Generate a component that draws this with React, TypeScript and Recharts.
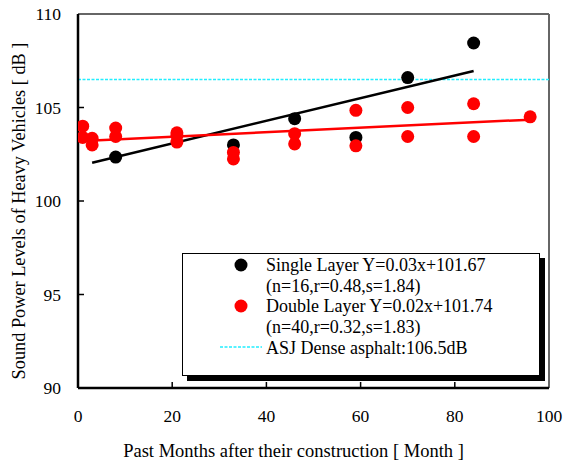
import React from "react";
import {
  ComposedChart,
  Scatter,
  Line,
  XAxis,
  YAxis,
  ReferenceLine,
} from "recharts";

const singleMonths = [8, 33, 46, 59, 70, 84];
const singleLevels = [102.35, 103.0, 104.4, 103.4, 106.6, 108.45];

const doubleMonths = [1, 1, 3, 3, 8, 8, 21, 21, 21, 33, 33, 46, 46, 59, 59, 70, 70, 84, 84, 96];
const doubleLevels = [
  104.0, 103.4, 103.35, 103.0, 103.9, 103.45, 103.65, 103.5, 103.15, 102.6, 102.25,
  103.6, 103.05, 104.85, 102.95, 105.0, 103.45, 105.2, 103.45, 104.5,
];

const singleFitX = [3, 84];
const singleFitY = [102.05, 106.95];
const doubleFitX = [0, 96];
const doubleFitY = [103.2, 104.35];

const asjLevel = 106.5;

const xTicks = [0, 20, 40, 60, 80, 100];
const yTicks = [90, 95, 100, 105, 110];

const legendLines = [
  "Single Layer Y=0.03x+101.67",
  "(n=16,r=0.48,s=1.84)",
  "Double Layer Y=0.02x+101.74",
  "(n=40,r=0.32,s=1.83)",
  "ASJ Dense asphalt:106.5dB",
];

const xLabel = "Past Months after their construction [ Month ]";
const yLabel = "Sound Power Levels of Heavy Vehicles [ dB ]";

const singleData = singleMonths.map((m, i) => ({ x: m, y: singleLevels[i] }));
const doubleData = doubleMonths.map((m, i) => ({ x: m, y: doubleLevels[i] }));
const singleFit = singleFitX.map((m, i) => ({ x: m, y: singleFitY[i] }));
const doubleFit = doubleFitX.map((m, i) => ({ x: m, y: doubleFitY[i] }));

const FONT = '"Liberation Serif", "Times New Roman", serif';
const CYAN = "#22eeff";

const XTick = (props: any) => {
  const { x, y, payload } = props;
  const v = payload.value;
  const inner = v !== 0 && v !== 100;
  return (
    <g>
      {inner && <line x1={x} y1={y} x2={x} y2={y - 6} stroke="#000" strokeWidth={1.5} />}
      <text x={x} y={y + 34} textAnchor="middle" style={{ fontFamily: FONT, fontSize: 17.5 }} fill="#000">
        {v}
      </text>
    </g>
  );
};

const YTick = (props: any) => {
  const { x, y, payload } = props;
  const v = payload.value;
  const inner = v !== 90 && v !== 110;
  return (
    <g>
      {inner && <line x1={x} y1={y} x2={x + 6} y2={y} stroke="#000" strokeWidth={1.5} />}
      <text x={x - 17} y={y + 6} textAnchor="end" style={{ fontFamily: FONT, fontSize: 17.5 }} fill="#000">
        {v}
      </text>
    </g>
  );
};

const XLabel = (props: any) => {
  const { viewBox } = props;
  const cx = viewBox.x + viewBox.width / 2 - 20;
  return (
    <text x={cx} y={viewBox.y + viewBox.height - 4} textAnchor="middle" style={{ fontFamily: FONT, fontSize: 18.5 }} fill="#000">
      {xLabel}
    </text>
  );
};

const YLabel = (props: any) => {
  const { viewBox } = props;
  const cx = 19;
  const cy = viewBox.y + viewBox.height / 2 + 10;
  return (
    <text
      x={cx}
      y={cy}
      transform={`rotate(-90 ${cx} ${cy})`}
      textAnchor="middle"
      dominantBaseline="central"
      style={{ fontFamily: FONT, fontSize: 18.3 }}
      fill="#000"
    >
      {yLabel}
    </text>
  );
};

const dot = (color: string) => (props: any) => (
  <circle cx={props.cx} cy={props.cy} r={6.5} fill={color} />
);

const LegendBox = () => (
  <div
    style={{
      position: "absolute",
      left: 182,
      top: 253,
      width: 356,
      height: 121,
      border: "1px solid #000",
      background: "#fff",
      boxShadow: "5px 5px 0 #000",
    }}
  >
    <svg width={356} height={121} style={{ position: "absolute", left: 0, top: 0 }}>
      <circle cx={58} cy={11} r={6.5} fill="#000" />
      <circle cx={58} cy={52} r={6.5} fill="#ff0000" />
      <line x1={37} y1={93} x2={79} y2={93} stroke={CYAN} strokeWidth={1.5} strokeDasharray="3 1.5" />
      {legendLines.map((t, i) => (
        <text key={i} x={83} y={17 + i * 20.7} style={{ fontFamily: FONT, fontSize: 18 }} fill="#000">
          {t}
        </text>
      ))}
    </svg>
  </div>
);

export default function App() {
  return (
    <div style={{ position: "absolute", left: 0, top: 0, width: 563, height: 461, background: "#fff" }}>
      <ComposedChart
        width={563}
        height={461}
        margin={{ top: 14, right: 14, bottom: 0, left: 0 }}
      >
        <XAxis
          type="number"
          dataKey="x"
          domain={[0, 100]}
          ticks={xTicks}
          height={73}
          axisLine={{ stroke: "#000", strokeWidth: 2.5 }}
          tickLine={false}
          tickSize={0}
          tickMargin={0}
          tick={<XTick />}
          allowDataOverflow
          label={{ content: <XLabel /> }}
        />
        <YAxis
          type="number"
          dataKey="y"
          domain={[90, 110]}
          ticks={yTicks}
          width={78}
          axisLine={{ stroke: "#000", strokeWidth: 2.5 }}
          tickLine={false}
          tickSize={0}
          tickMargin={0}
          tick={<YTick />}
          allowDataOverflow
          label={{ content: <YLabel /> }}
        />
        <ReferenceLine y={110} stroke="#666" strokeWidth={2} />
        <ReferenceLine x={100} stroke="#666" strokeWidth={2} />
        <ReferenceLine y={asjLevel} stroke={CYAN} strokeWidth={1.5} strokeDasharray="3 1.5" />
        <Scatter data={singleData} fill="#000" shape={dot("#000")} isAnimationActive={false} legendType="none" />
        <Scatter data={doubleData} fill="#ff0000" shape={dot("#ff0000")} isAnimationActive={false} legendType="none" />
        <Line
          data={singleFit}
          dataKey="y"
          stroke="#000"
          strokeWidth={2.5}
          dot={false}
          activeDot={false}
          isAnimationActive={false}
          legendType="none"
        />
        <Line
          data={doubleFit}
          dataKey="y"
          stroke="#ff0000"
          strokeWidth={2.5}
          dot={false}
          activeDot={false}
          isAnimationActive={false}
          legendType="none"
        />
      </ComposedChart>
      <LegendBox />
    </div>
  );
}
